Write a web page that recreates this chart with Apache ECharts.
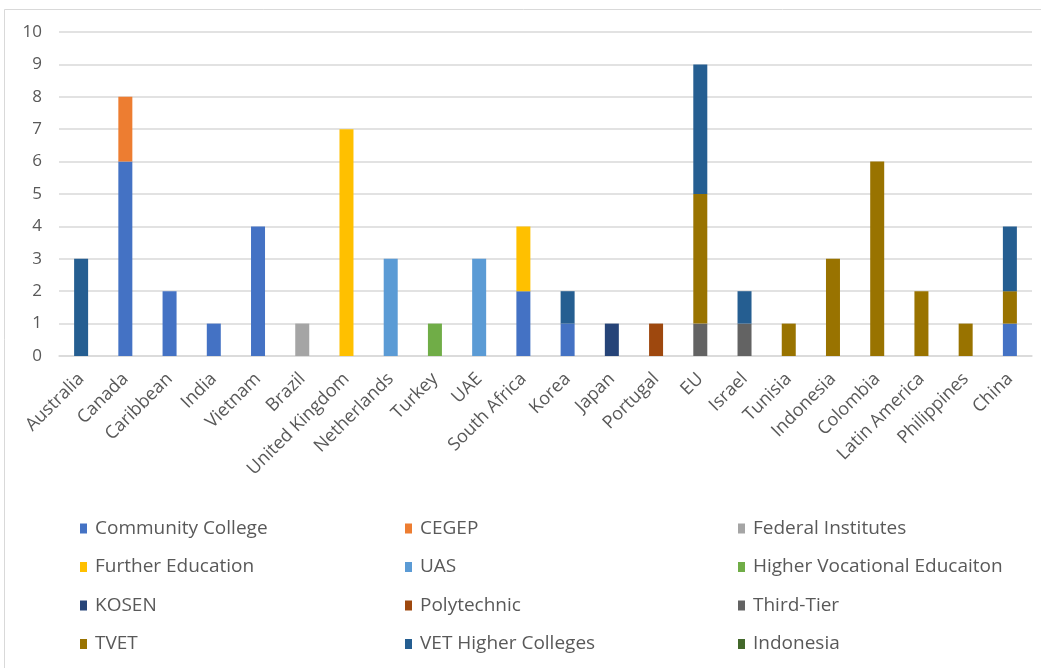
<!DOCTYPE html>
<html>
<head>
<meta charset="utf-8">
<script src="https://cdn.jsdelivr.net/npm/echarts@6/dist/echarts.min.js"></script>
<style>
  html, body { margin: 0; padding: 0; background: #fff; }
  #chart { width: 1041px; height: 668px; }
</style>
</head>
<body>
<div id="chart"></div>
<script>
// Categories (countries / regions)
const categories = ['Australia', 'Canada', 'Caribbean', 'India', 'Vietnam', 'Brazil', 'United Kingdom',
  'Netherlands', 'Turkey', 'UAE', 'South Africa', 'Korea', 'Japan', 'Portugal', 'EU', 'Israel',
  'Tunisia', 'Indonesia', 'Colombia', 'Latin America', 'Philippines', 'China'];

// Series values, one per institution type (null = no bar)
const communityCollege   = [null, 6, 2, 1, 4, null, null, null, null, null, 2, 1, null, null, null, null, null, null, null, null, null, 1];
const cegep              = [null, 2, null, null, null, null, null, null, null, null, null, null, null, null, null, null, null, null, null, null, null, null];
const federalInstitutes  = [null, null, null, null, null, 1, null, null, null, null, null, null, null, null, null, null, null, null, null, null, null, null];
const furtherEducation   = [null, null, null, null, null, null, 7, null, null, null, 2, null, null, null, null, null, null, null, null, null, null, null];
const uas                = [null, null, null, null, null, null, null, 3, null, 3, null, null, null, null, null, null, null, null, null, null, null, null];
const higherVocational   = [null, null, null, null, null, null, null, null, 1, null, null, null, null, null, null, null, null, null, null, null, null, null];
const kosen              = [null, null, null, null, null, null, null, null, null, null, null, null, 1, null, null, null, null, null, null, null, null, null];
const polytechnic        = [null, null, null, null, null, null, null, null, null, null, null, null, null, 1, null, null, null, null, null, null, null, null];
const thirdTier          = [null, null, null, null, null, null, null, null, null, null, null, null, null, null, 1, 1, null, null, null, null, null, null];
const tvet               = [null, null, null, null, null, null, null, null, null, null, null, null, null, null, 4, null, 1, 3, 6, 2, 1, 1];
const vetHigherColleges  = [3, null, null, null, null, null, null, null, null, null, null, 1, null, null, 4, 1, null, null, null, null, null, 2];
const indonesiaSeries    = [null, null, null, null, null, null, null, null, null, null, null, null, null, null, null, null, null, null, null, null, null, null];

// Y-axis ticks
const yTicks = [0, 1, 2, 3, 4, 5, 6, 7, 8, 9, 10];

const seriesDefs = [
  ['Community College', communityCollege, '#4472C4'],
  ['CEGEP', cegep, '#ED7D31'],
  ['Federal Institutes', federalInstitutes, '#A5A5A5'],
  ['Further Education', furtherEducation, '#FFC000'],
  ['UAS', uas, '#5B9BD5'],
  ['Higher Vocational Educaiton', higherVocational, '#70AD47'],
  ['KOSEN', kosen, '#264478'],
  ['Polytechnic', polytechnic, '#9E480E'],
  ['Third-Tier', thirdTier, '#636363'],
  ['TVET', tvet, '#997300'],
  ['VET Higher Colleges', vetHigherColleges, '#255E91'],
  ['Indonesia', indonesiaSeries, '#43682B']
];

const FONT = 'Open Sans';
const TEXT = '#595959';

const series = seriesDefs.map(([name, data, color]) => ({
  name, type: 'bar', stack: 'total', data,
  barWidth: 14,
  itemStyle: { color },
  emphasis: { disabled: true }
}));

// Legend: three columns, four rows each
const legendCols = [[0, 3, 6, 9], [1, 4, 7, 10], [2, 5, 8, 11]];
const legendLeft = [80, 405, 738];
const legends = legendCols.map((idx, c) => ({
  orient: 'vertical',
  left: legendLeft[c],
  top: 519,
  padding: 0,
  itemWidth: 7,
  itemHeight: 10,
  itemGap: 19.5,
  icon: 'rect',
  selectedMode: false,
  textStyle: { fontFamily: FONT, fontSize: 19, color: TEXT, padding: [0, 0, 0, 3] },
  data: idx.map(i => seriesDefs[i][0])
}));

const chart = echarts.init(document.getElementById('chart'), null, { renderer: 'canvas' });
chart.setOption({
  animation: false,
  backgroundColor: '#fff',
  graphic: [{
    type: 'rect',
    shape: { x: 4.5, y: 9.5, width: 1060, height: 700 },
    style: { fill: 'none', stroke: '#d9d9d9', lineWidth: 1 },
    silent: true
  }],
  grid: { left: 59, right: 9, top: 32, bottom: 312 },
  legend: legends,
  xAxis: {
    type: 'category',
    data: categories,
    axisLine: { lineStyle: { color: '#d9d9d9', width: 1.5 } },
    axisTick: { show: false },
    axisLabel: { rotate: 45, interval: 0, margin: 20, fontFamily: FONT, fontSize: 18, color: TEXT }
  },
  yAxis: {
    type: 'value',
    min: yTicks[0],
    max: yTicks[yTicks.length - 1],
    interval: 1,
    axisLine: { show: false },
    axisTick: { show: false },
    splitLine: { lineStyle: { color: '#d9d9d9', width: 1.5 } },
    axisLabel: { margin: 17, fontFamily: FONT, fontSize: 17, color: TEXT }
  },
  series
});
</script>
</body>
</html>
